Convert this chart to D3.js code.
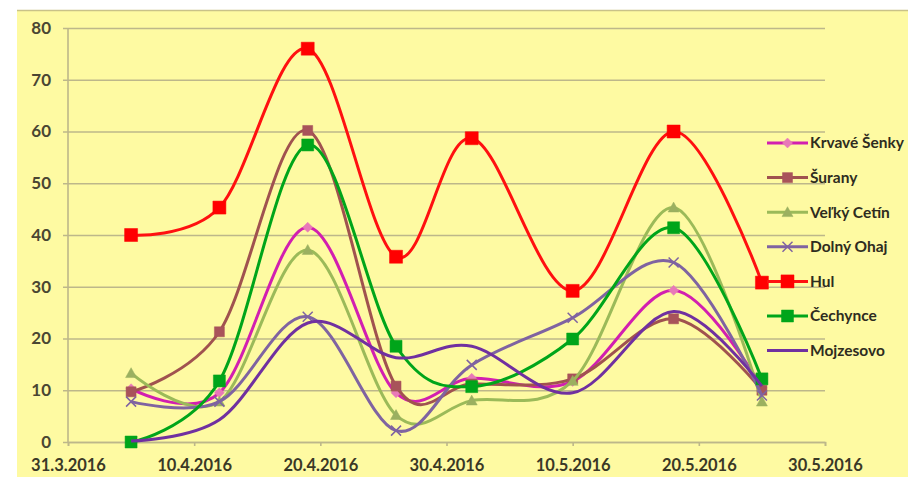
<!DOCTYPE html>
<html>
<head>
<meta charset="utf-8">
<script src="https://cdn.jsdelivr.net/npm/d3@7"></script>
<style>
  html, body { margin: 0; padding: 0; background: #ffffff; }
  svg { display: block; }
  text { font-family: Lato, "Open Sans", sans-serif; }
</style>
</head>
<body>
<svg id="chart" width="908" height="477"></svg>
<script>
// Sampling dates
const dates = ["2016-04-05", "2016-04-12", "2016-04-19", "2016-04-26", "2016-05-02", "2016-05-10", "2016-05-18", "2016-05-25"];

// Axis tick labels
const xTickLabels = ["31.3.2016", "10.4.2016", "20.4.2016", "30.4.2016", "10.5.2016", "20.5.2016", "30.5.2016"];
const yTickLabels = [0, 10, 20, 30, 40, 50, 60, 70, 80];

// Series names and values
const seriesNames = ["Krvavé Šenky", "Šurany", "Veľký Cetín", "Dolný Ohaj", "Hul", "Čechynce", "Mojzesovo"];
const krvaveSenky = [10.3, 9.5, 41.5, 9.5, 12.3, 11.7, 29.3, 10.5];
const surany      = [9.7, 21.3, 60.2, 10.8, 11.2, 12.2, 23.8, 10];
const velkyCetin  = [13.3, 7.8, 37.1, 5.2, 8, 11.8, 45.3, 7.8];
const dolnyOhaj   = [7.8, 7.8, 24.2, 2.2, 14.9, 24, 34.7, 9];
const hul         = [40, 45.3, 76, 35.8, 58.7, 29.2, 60, 30.8];
const cechynce    = [0, 11.8, 57.4, 18.5, 10.7, 19.9, 41.4, 12.2];
const mojzesovo   = [0.2, 4.3, 23, 16.3, 18.5, 9.5, 25.2, 10.8];

const seriesValues = [krvaveSenky, surany, velkyCetin, dolnyOhaj, hul, cechynce, mojzesovo];
const seriesStyles = [
  { color: "#d21fb0", marker: "diamond",  markerFill: "#e879b8", size: 10 },
  { color: "#a0524f", marker: "square",   markerFill: "#a8535a", size: 10 },
  { color: "#9bba59", marker: "triangle", markerFill: "#9bb060", size: 11 },
  { color: "#7f63a1", marker: "cross",    markerFill: "#7f63a1", size: 10 },
  { color: "#ff1010", marker: "square",   markerFill: "#ff0000", size: 13 },
  { color: "#00a51a", marker: "square",   markerFill: "#00a51a", size: 12 },
  { color: "#7030a0", marker: "none",     markerFill: "#7030a0", size: 0 }
];

const parseDate = d3.utcParse("%Y-%m-%d");
const parseTick = d3.utcParse("%d.%m.%Y");
const formatTick = d3.utcFormat("%-d.%-m.%Y");

const svg = d3.select("#chart");
const W = 908, H = 477;

// Panel background
svg.append("rect").attr("x", 17).attr("y", 10).attr("width", W - 17).attr("height", H - 10)
  .attr("fill", "#fefaa2");
svg.append("line").attr("x1", 17).attr("x2", W).attr("y1", 10.5).attr("y2", 10.5)
  .attr("stroke", "#c9c288").attr("stroke-width", 1.5);

const plot = { left: 68, right: 825, top: 28, bottom: 442 };

const x = d3.scaleUtc()
  .domain([parseTick(xTickLabels[0]), parseTick(xTickLabels[xTickLabels.length - 1])])
  .range([plot.left, plot.right]);
const y = d3.scaleLinear().domain([0, 80]).range([plot.bottom, plot.top]);

// Horizontal gridlines with left tick stubs
const yAxis = d3.axisLeft(y)
  .tickValues(yTickLabels)
  .tickSize(-(plot.right - plot.left) - 5)
  .tickPadding(13)
  .tickFormat(d3.format("d"));
const gy = svg.append("g").attr("transform", `translate(${plot.left - 5},0)`).call(yAxis);
gy.select(".domain").remove();
gy.selectAll(".tick line").attr("stroke", "#bdb78a").attr("stroke-width", 1.6);
gy.selectAll(".tick text")
  .attr("fill", "#4a4632").attr("font-size", 17).attr("font-weight", 700).attr("x", -12);

// Vertical axis line
svg.append("line").attr("x1", plot.left).attr("x2", plot.left)
  .attr("y1", plot.top).attr("y2", plot.bottom)
  .attr("stroke", "#bdb78a").attr("stroke-width", 1.6);

// Date axis
const xAxis = d3.axisBottom(x)
  .tickValues(xTickLabels.map(parseTick))
  .tickSize(4)
  .tickPadding(13)
  .tickFormat(formatTick);
const gx = svg.append("g").attr("transform", `translate(0,${plot.bottom})`).call(xAxis);
gx.select(".domain").attr("stroke", "#bdb78a").attr("stroke-width", 1.6);
gx.selectAll(".tick line").attr("stroke", "#bdb78a").attr("stroke-width", 1.6);
gx.selectAll(".tick text").attr("fill", "#3a3826").attr("font-size", 16.5).attr("font-weight", 700);

// Marker shapes
function markerPath(type, s) {
  const h = s / 2;
  if (type === "square") return `M${-h},${-h}H${h}V${h}H${-h}Z`;
  if (type === "diamond") return `M0,${-h}L${h},0L0,${h}L${-h},0Z`;
  if (type === "triangle") return `M0,${-h}L${h},${h * 0.8}L${-h},${h * 0.8}Z`;
  if (type === "cross") return `M${-h},${-h}L${h},${h}M${-h},${h}L${h},${-h}`;
  return "";
}

function drawMarker(g, st, cx, cy) {
  if (st.marker === "none") return;
  const p = g.append("path").attr("d", markerPath(st.marker, st.size))
    .attr("transform", `translate(${cx},${cy})`);
  if (st.marker === "cross") {
    p.attr("fill", "none").attr("stroke", st.markerFill).attr("stroke-width", 1.5);
  } else {
    p.attr("fill", st.markerFill).attr("stroke", st.markerFill).attr("stroke-width", 0.5);
  }
}

const line = d3.line()
  .x((d, i) => x(parseDate(dates[i])))
  .y(d => y(d))
  .curve(d3.curveCatmullRom.alpha(0));

const seriesLayer = svg.append("g");
seriesValues.forEach((vals, si) => {
  const st = seriesStyles[si];
  const g = seriesLayer.append("g");
  g.append("path").datum(vals).attr("d", line)
    .attr("fill", "none").attr("stroke", st.color)
    .attr("stroke-width", 3).attr("stroke-linejoin", "round");
  vals.forEach((v, i) => drawMarker(g, st, x(parseDate(dates[i])), y(v)));
});

// Legend
const legend = svg.append("g");
seriesNames.forEach((name, i) => {
  const st = seriesStyles[i];
  const ly = 143 + i * 34.6;
  legend.append("line").attr("x1", 767).attr("x2", 808).attr("y1", ly).attr("y2", ly)
    .attr("stroke", st.color).attr("stroke-width", 3);
  drawMarker(legend, st, 787.5, ly);
  legend.append("text").attr("x", 810).attr("y", ly).attr("dy", "0.35em")
    .attr("font-size", 15.5).attr("font-weight", 700).attr("fill", "#2e2c20").text(name);
});
</script>
</body>
</html>
